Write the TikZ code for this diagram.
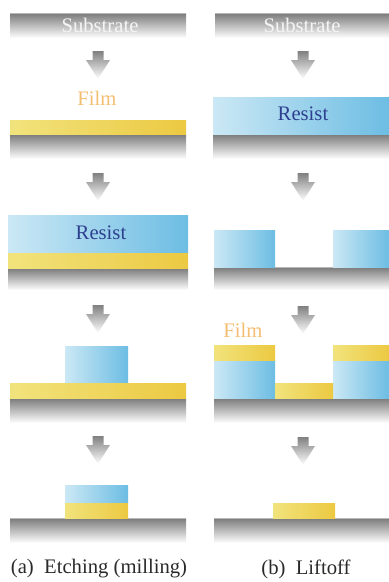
\documentclass[tikz,border=0pt]{standalone}
\usepackage{fontspec}
\setmainfont{Liberation Serif}
\usetikzlibrary{positioning}
\definecolor{filmL}{HTML}{F1E37C}
\definecolor{filmR}{HTML}{ECC942}
\definecolor{resistL}{HTML}{CBE8F5}
\definecolor{resistR}{HTML}{6DBDE3}
\definecolor{subTop}{HTML}{7A7A7A}
\definecolor{subMid}{HTML}{A0A0A0}
\definecolor{subEdge}{HTML}{B8B8B8}
\definecolor{arrowTop}{HTML}{808080}
\definecolor{filmText}{HTML}{F4BE72}
\definecolor{resistText}{HTML}{2E3F8F}
\definecolor{capText}{HTML}{2A2A2A}
\tikzset{
	substrate/.style={top color=subTop, middle color=subMid, bottom color=white},
	film/.style={left color=filmL, right color=filmR},
	resist/.style={left color=resistL, right color=resistR},
	downarrow/.style={top color=arrowTop, bottom color=white},
	label/.style={font=\fontsize{15.5}{17}\selectfont, inner sep=0pt}
}

\begin{document}
\begin{tikzpicture}[x=0.75pt, y=-0.75pt]
\useasboundingbox (0,0) rectangle (389,582);

% substrates
\foreach \Left/\Right/\Top/\Bot in {10/186/13/38, 10/186/134/159, 8/188/268/290, 10/186/398/423, 10/186/518/543,
	215/389/13/38, 213/389/134/159, 214/389/267/290, 214/389/398/423, 214/389/518/543}{
	\shade[substrate] (\Left,\Top) rectangle (\Right,\Bot);
	\draw[subEdge, line width=0.6pt] (\Left,\Top) -- (\Right,\Top);
}

% arrows
\foreach \X/\Y in {98/51, 98/173, 98/305, 98/436, 303/51, 303/173, 303/306, 303/437}{
	\shade[downarrow] (\X-5.5,\Y) -- (\X+5.5,\Y) -- (\X+5.5,\Y+9) -- (\X+12,\Y+9) -- (\X,\Y+28) -- (\X-12,\Y+9) -- (\X-5.5,\Y+9) -- cycle;
}

% resist blocks
\foreach \Left/\Right/\Top/\Bot in {8/188/215/253, 65/128/346/383, 65/128/485/503,
	213/389/97/134, 214/275/230/267, 333/389/230/267, 214/275/360/398, 333/389/360/398}{
	\shade[resist] (\Left,\Top) rectangle (\Right,\Bot);
}

% film layers
\foreach \Left/\Right/\Top/\Bot in {10/186/120/134, 8/188/253/268, 10/186/383/398, 65/128/503/518,
	214/275/345/360, 333/389/345/360, 275/333/383/398, 273/335/503/518}{
	\shade[film] (\Left,\Top) rectangle (\Right,\Bot);
}

\node [label, text=white!96!black] (subA) at (100,25) {Substrate};
\node [label, text=white!96!black] (subB) at (302,25) {Substrate};
\node [label, text=filmText] (filmA) at (97,98) {Film};
\node [label, text=filmText] (filmB) at (243,330) {Film};
\node [label, text=resistText] (resistA) at (101,233) {Resist};
\node [label, text=resistText] (resistB) at (303,114) {Resist};
\node [label, text=capText] (capA) at (99,569) {(a)\enspace Etching (milling)};
\node [label, text=capText] (capB) at (306,569) {(b)\enspace Liftoff};
\end{tikzpicture}
\end{document}
